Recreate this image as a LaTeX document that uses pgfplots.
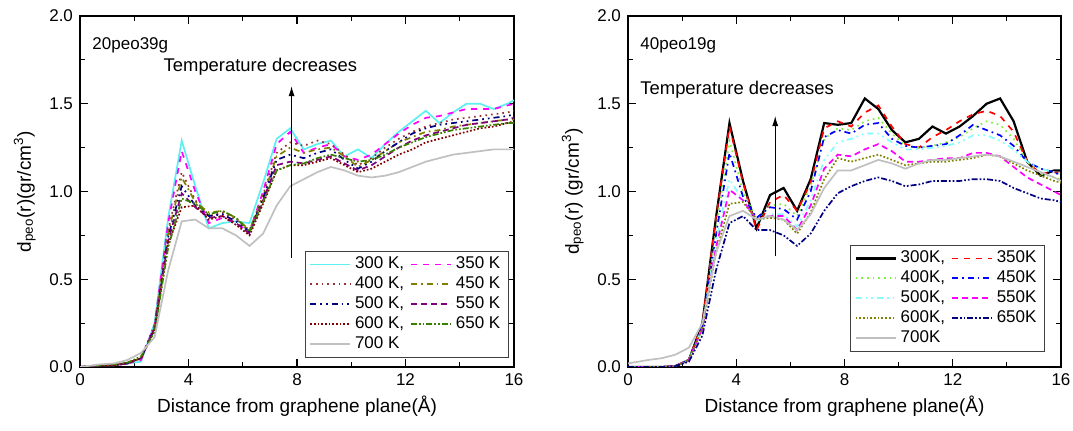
\documentclass[border=0pt]{standalone}
\usepackage{fontspec}
\setmainfont{Liberation Sans}
\usepackage{pgfplots}
\usepackage{pgfplotstable}
\pgfplotsset{compat=1.18}
\usetikzlibrary{arrows.meta}

\definecolor{lcyan}{HTML}{5CF0F0}
\definecolor{lmag}{HTML}{FF00FF}
\definecolor{lbrown}{HTML}{993333}
\definecolor{lolive}{HTML}{808000}
\definecolor{lnavy}{HTML}{000080}
\definecolor{lpurple}{HTML}{800080}
\definecolor{lmaroon}{HTML}{800000}
\definecolor{lgreen}{HTML}{3A8000}
\definecolor{lgray}{HTML}{C0C0C0}
\definecolor{rred}{HTML}{FF0000}
\definecolor{rlime}{HTML}{80F040}
\definecolor{rblue}{HTML}{0000FF}
\definecolor{rcyan}{HTML}{80FFFF}

% left panel: 20peo39g
\pgfplotstableread{
x     t300 t350 t400 t450 t500 t550 t600 t650 t700
0     0.00 0.00 0.00 0.00 0.00 0.00 0.00 0.00 0.00
0.75  0.01 0.01 0.01 0.01 0.01 0.01 0.01 0.01 0.015
1.25  0.01 0.01 0.01 0.01 0.01 0.01 0.01 0.015 0.02
1.75  0.02 0.02 0.02 0.02 0.02 0.02 0.025 0.025 0.04
2.25  0.03 0.04 0.05 0.05 0.05 0.05 0.05 0.06 0.08
2.75  0.25 0.24 0.24 0.22 0.22 0.22 0.21 0.20 0.17
3.25  0.85 0.82 0.78 0.76 0.74 0.72 0.70 0.68 0.55
3.75  1.29 1.23 1.11 1.08 1.03 0.99 0.91 0.96 0.83
4.25  1.03 1.00 0.95 0.94 0.92 0.91 0.92 0.93 0.84
4.75  0.79 0.82 0.86 0.88 0.86 0.85 0.84 0.87 0.79
5.25  0.82 0.85 0.88 0.89 0.87 0.86 0.86 0.89 0.79
5.75  0.83 0.82 0.84 0.85 0.83 0.82 0.81 0.85 0.75
6.25  0.82 0.77 0.78 0.78 0.77 0.76 0.75 0.77 0.69
6.75  1.05 1.00 0.98 0.97 0.96 0.95 0.93 0.94 0.76
7.25  1.30 1.27 1.22 1.20 1.18 1.15 1.12 1.12 0.92
7.75  1.36 1.34 1.28 1.25 1.21 1.17 1.15 1.15 1.03
8.25  1.24 1.22 1.26 1.22 1.19 1.16 1.15 1.16 1.07
8.75  1.27 1.25 1.29 1.24 1.22 1.18 1.17 1.19 1.11
9.25  1.29 1.27 1.27 1.25 1.24 1.20 1.19 1.21 1.14
9.75  1.20 1.20 1.21 1.20 1.18 1.16 1.15 1.19 1.12
10.25 1.24 1.18 1.15 1.14 1.13 1.12 1.11 1.17 1.09
10.75 1.19 1.21 1.19 1.18 1.17 1.15 1.13 1.18 1.08
11.25 1.27 1.27 1.25 1.23 1.23 1.20 1.17 1.21 1.09
11.75 1.34 1.33 1.30 1.28 1.28 1.25 1.21 1.25 1.11
12.25 1.40 1.38 1.34 1.31 1.33 1.29 1.24 1.28 1.14
12.75 1.46 1.42 1.37 1.34 1.36 1.32 1.28 1.31 1.17
13.25 1.39 1.43 1.39 1.35 1.38 1.34 1.30 1.33 1.19
13.75 1.45 1.45 1.41 1.37 1.39 1.36 1.32 1.35 1.21
14.25 1.50 1.47 1.42 1.38 1.40 1.38 1.34 1.36 1.22
14.75 1.50 1.47 1.43 1.39 1.41 1.39 1.36 1.37 1.23
15.25 1.47 1.47 1.44 1.40 1.42 1.40 1.37 1.38 1.24
15.75 1.50 1.49 1.45 1.41 1.43 1.41 1.39 1.39 1.24
16    1.52 1.50 1.46 1.41 1.44 1.42 1.40 1.39 1.24
}\lefttab

% right panel: 40peo19g
\pgfplotstableread{
x     t300 t350 t400 t450 t500 t550 t600 t650 t700
0     0.00 0.00 0.00 0.00 0.00 0.00 0.00 0.00 0.02
0.75  0.00 0.00 0.00 0.00 0.00 0.00 0.00 0.00 0.04
1.25  0.00 0.00 0.00 0.00 0.00 0.00 0.00 0.00 0.05
1.75  0.005 0.005 0.005 0.005 0.005 0.005 0.005 0.005 0.07
2.25  0.04 0.04 0.04 0.04 0.04 0.04 0.04 0.03 0.11
2.75  0.25 0.25 0.23 0.23 0.22 0.22 0.22 0.18 0.25
3.25  0.85 0.85 0.78 0.75 0.72 0.68 0.65 0.55 0.65
3.75  1.39 1.37 1.29 1.22 1.07 1.01 0.93 0.82 0.86
4.25  1.06 1.05 1.00 0.97 0.95 0.95 0.94 0.86 0.89
4.75  0.79 0.78 0.84 0.85 0.83 0.84 0.84 0.78 0.84
5.25  0.98 0.94 0.92 0.91 0.87 0.86 0.85 0.78 0.86
5.75  1.02 0.98 0.93 0.90 0.87 0.86 0.84 0.75 0.84
6.25  0.89 0.89 0.86 0.84 0.80 0.78 0.76 0.69 0.78
6.75  1.07 1.05 1.03 1.00 0.95 0.92 0.88 0.76 0.87
7.25  1.39 1.36 1.30 1.31 1.18 1.13 1.07 0.89 1.02
7.75  1.38 1.40 1.36 1.35 1.28 1.21 1.19 0.99 1.12
8.25  1.39 1.37 1.35 1.33 1.30 1.20 1.17 1.03 1.12
8.75  1.53 1.45 1.40 1.38 1.33 1.24 1.19 1.06 1.15
9.25  1.47 1.49 1.42 1.39 1.33 1.27 1.21 1.08 1.18
9.75  1.35 1.37 1.33 1.30 1.28 1.23 1.18 1.06 1.16
10.25 1.28 1.27 1.26 1.26 1.24 1.17 1.15 1.03 1.13
10.75 1.30 1.25 1.25 1.25 1.24 1.17 1.16 1.04 1.16
11.25 1.37 1.31 1.26 1.26 1.25 1.18 1.17 1.06 1.18
11.75 1.33 1.35 1.28 1.27 1.26 1.19 1.17 1.06 1.18
12.25 1.37 1.40 1.31 1.32 1.28 1.19 1.18 1.06 1.19
12.75 1.43 1.44 1.36 1.38 1.32 1.22 1.19 1.07 1.20
13.25 1.50 1.46 1.40 1.35 1.32 1.22 1.21 1.07 1.21
13.75 1.53 1.43 1.38 1.32 1.29 1.20 1.20 1.06 1.20
14.25 1.40 1.34 1.30 1.26 1.24 1.14 1.16 1.02 1.17
14.75 1.17 1.17 1.17 1.17 1.17 1.08 1.12 0.99 1.14
15.25 1.09 1.10 1.10 1.13 1.13 1.04 1.09 0.96 1.11
15.75 1.12 1.11 1.08 1.11 1.11 1.00 1.06 0.95 1.08
16    1.12 1.10 1.07 1.09 1.10 0.98 1.05 0.94 1.06
}\righttab

\pgfplotsset{
  rdfaxis/.style={
    scale only axis, width=217pt, height=175.5pt,
    xmin=0, xmax=16, ymin=0, ymax=2,
    xtick={0,4,...,16}, minor xtick={2,6,10,14},
    ytick={0,0.5,...,2}, minor ytick={0.25,0.75,...,1.75},
    yticklabel style={/pgf/number format/.cd, fixed, fixed zerofill, precision=1},
    /pgf/number format/assume math mode=true,
    tick align=inside, major tick length=4pt, minor tick length=2.5pt,
    tick style={black, line width=0.6pt},
    axis line style={line width=0.7pt},
    ticklabel style={font=\fontsize{8.5}{10}\selectfont},
    label style={font=\fontsize{9.5}{11}\selectfont},
    xlabel={Distance from graphene plane(Å)},
    xlabel style={yshift=2pt},
    legend columns=2,
    legend cell align=left,
    legend style={font=\fontsize{8.5}{10}\selectfont,
      inner xsep=2pt, inner ysep=1pt, row sep=-1.5pt,
      /tikz/every even column/.append style={column sep=1pt}},
    legend image code/.code={\draw[##1, draw=.] (0pt,0pt) -- (20pt,0pt);},
    every axis plot/.append style={line width=0.85pt},
    clip=true,
  }
}

\begin{document}
\begin{tikzpicture}
\useasboundingbox (0,0) rectangle (536.5pt,215.5pt);

\begin{axis}[rdfaxis, at={(40pt,32pt)}, anchor=south west,
  ylabel={d\textsubscript{peo}(r)(gr/cm\textsuperscript{3})},
  legend style={at={(0.988,0.026)}, anchor=south east, draw=black!75, line width=0.5pt}]
  \addplot[lcyan, solid] table[x=x, y=t300] {\lefttab};
  \addlegendentry{300 K,}
  \addplot[lmag, dashed] table[x=x, y=t350] {\lefttab};
  \addlegendentry{350 K}
  \addplot[lbrown, dotted] table[x=x, y=t400] {\lefttab};
  \addlegendentry{400 K,}
  \addplot[lolive, dash dot] table[x=x, y=t450] {\lefttab};
  \addlegendentry{450 K}
  \addplot[lnavy, dash dot dot] table[x=x, y=t500] {\lefttab};
  \addlegendentry{500 K,}
  \addplot[lpurple, densely dashed] table[x=x, y=t550] {\lefttab};
  \addlegendentry{550 K}
  \addplot[lmaroon, densely dotted] table[x=x, y=t600] {\lefttab};
  \addlegendentry{600 K,}
  \addplot[lgreen, densely dash dot dot] table[x=x, y=t650] {\lefttab};
  \addlegendentry{650 K}
  \addplot[lgray, solid] table[x=x, y=t700] {\lefttab};
  \addlegendentry{700 K}
  \draw[-{Latex[length=5pt,width=3pt]}, line width=0.5pt] (axis cs:7.8,0.62) -- (axis cs:7.8,1.60);
  \node[font=\fontsize{9.2}{11}\selectfont] at (axis cs:6.65,1.71) {Temperature decreases};
  \node[anchor=west, font=\fontsize{8.5}{10}\selectfont] at (axis cs:0.2,1.83) {20peo39g};
\end{axis}

\begin{axis}[rdfaxis, at={(314pt,32pt)}, anchor=south west, width=216.5pt,
  ylabel={d\textsubscript{peo}(r) (gr/cm\textsuperscript{3})},
  legend style={at={(0.963,0.043)}, anchor=south east, draw=black!75, line width=0.5pt}]
  \addplot[black, solid, line width=1.1pt] table[x=x, y=t300] {\righttab};
  \addlegendentry{300K,}
  \addplot[rred, dashed] table[x=x, y=t350] {\righttab};
  \addlegendentry{350K}
  \addplot[rlime, dotted] table[x=x, y=t400] {\righttab};
  \addlegendentry{400K,}
  \addplot[rblue, dash dot] table[x=x, y=t450] {\righttab};
  \addlegendentry{450K}
  \addplot[rcyan, dash dot dot] table[x=x, y=t500] {\righttab};
  \addlegendentry{500K,}
  \addplot[lmag, densely dashed] table[x=x, y=t550] {\righttab};
  \addlegendentry{550K}
  \addplot[lolive, densely dotted] table[x=x, y=t600] {\righttab};
  \addlegendentry{600K,}
  \addplot[lnavy, densely dash dot dot] table[x=x, y=t650] {\righttab};
  \addlegendentry{650K}
  \addplot[lgray, solid] table[x=x, y=t700] {\righttab};
  \addlegendentry{700K}
  \draw[-{Latex[length=5pt,width=3pt]}, line width=0.5pt] (axis cs:5.44,0.63) -- (axis cs:5.44,1.43);
  \node[anchor=west, font=\fontsize{9.2}{11}\selectfont] at (axis cs:0.2,1.58) {Temperature decreases};
  \node[anchor=west, font=\fontsize{8.5}{10}\selectfont] at (axis cs:0.2,1.83) {40peo19g};
\end{axis}
\end{tikzpicture}
\end{document}
